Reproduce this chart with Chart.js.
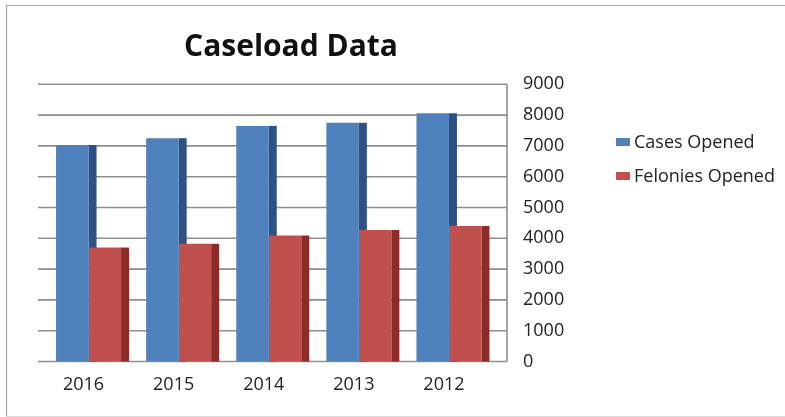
<!DOCTYPE html>
<html>
<head>
<meta charset="utf-8">
<script src="https://cdn.jsdelivr.net/npm/chart.js@4/dist/chart.umd.min.js"></script>
<style>
  html, body { margin: 0; padding: 0; background: #ffffff; }
  #wrap { width: 785px; height: 417px; position: relative; }
  canvas { display: block; }
</style>
</head>
<body>
<div id="wrap"><canvas id="c" width="785" height="417"></canvas></div>
<script>
// Caseload figures by year
const years = ['2016', '2015', '2014', '2013', '2012'];
const casesOpened = [7030, 7250, 7650, 7750, 8060];
const feloniesOpened = [3700, 3820, 4090, 4270, 4400];
const seriesNames = ['Cases Opened', 'Felonies Opened'];
const yMin = 0;
const yMax = 9000;
const yStep = 1000;
const chartTitle = 'Caseload Data';

const FONT = "'Open Sans', 'DejaVu Sans', sans-serif";
const faceColors = ['#4F81BD', '#C0504D'];
const sideColors = ['#2F5080', '#8A2D2A'];
const SIDE_DEPTH = 8;
const WALL_LEFT = 38;
const WALL_RIGHT = 507;

// Back wall: horizontal gridlines across the wall plus its right edge
const wallPlugin = {
  id: 'wall',
  beforeDatasetsDraw(chart) {
    const { ctx, scales } = chart;
    const y = scales.y;
    ctx.save();
    ctx.strokeStyle = '#8E8E8E';
    ctx.lineWidth = 1.6;
    y.ticks.forEach(t => {
      const py = y.getPixelForValue(t.value);
      ctx.beginPath();
      ctx.moveTo(WALL_LEFT, py);
      ctx.lineTo(WALL_RIGHT, py);
      ctx.stroke();
    });
    ctx.beginPath();
    ctx.moveTo(WALL_RIGHT, y.getPixelForValue(yMax));
    ctx.lineTo(WALL_RIGHT, y.getPixelForValue(yMin));
    ctx.stroke();
    ctx.restore();
  }
};

// Shaded right-hand faces that give the columns their depth
const sidePlugin = {
  id: 'sides',
  beforeDatasetsDraw(chart) {
    const { ctx } = chart;
    ctx.save();
    chart.data.datasets.forEach((ds, i) => {
      const meta = chart.getDatasetMeta(i);
      ctx.fillStyle = sideColors[i];
      meta.data.forEach(bar => {
        const p = bar.getProps(['x', 'y', 'base', 'width'], true);
        const x0 = p.x + p.width / 2;
        ctx.fillRect(x0, p.y, SIDE_DEPTH, p.base - p.y);
      });
    });
    ctx.restore();
  }
};

// Outer frame, title and legend
const decorPlugin = {
  id: 'decor',
  afterDraw(chart) {
    const { ctx } = chart;
    ctx.save();
    ctx.strokeStyle = '#A6A6A6';
    ctx.lineWidth = 1.2;
    ctx.beginPath();
    ctx.moveTo(6.5, 416.5);
    ctx.lineTo(6.5, 5.5);
    ctx.lineTo(785, 5.5);
    ctx.stroke();
    ctx.strokeStyle = '#DDDDDD';
    ctx.beginPath();
    ctx.moveTo(6.5, 416.5);
    ctx.lineTo(785, 416.5);
    ctx.stroke();

    ctx.fillStyle = '#111111';
    ctx.font = "bold 30px " + FONT;
    ctx.textAlign = 'center';
    ctx.textBaseline = 'alphabetic';
    ctx.fillText(chartTitle, 291, 56);

    ctx.font = "18px " + FONT;
    ctx.textAlign = 'left';
    ctx.textBaseline = 'middle';
    const rows = [142, 176];
    seriesNames.forEach((name, i) => {
      ctx.fillStyle = faceColors[i];
      ctx.fillRect(616, rows[i] - 4, 14, 8);
      ctx.fillStyle = '#222222';
      ctx.fillText(name, 634, rows[i] + 1);
    });
    ctx.restore();
  }
};

new Chart(document.getElementById('c'), {
  type: 'bar',
  data: {
    labels: years,
    datasets: [
      { label: seriesNames[0], data: casesOpened, backgroundColor: faceColors[0], borderWidth: 0 },
      { label: seriesNames[1], data: feloniesOpened, backgroundColor: faceColors[1], borderWidth: 0 }
    ]
  },
  options: {
    responsive: false,
    animation: false,
    devicePixelRatio: 1,
    categoryPercentage: 0.7214,
    barPercentage: 1,
    layout: { padding: { left: 43.5, top: 84.3, right: 216, bottom: 22.5 } },
    plugins: {
      legend: { display: false },
      title: { display: false },
      tooltip: { enabled: false }
    },
    scales: {
      x: {
        grid: { display: false, drawTicks: false },
        border: { display: false },
        ticks: {
          color: '#222222',
          font: { family: FONT, size: 18 },
          padding: 13,
          labelOffset: -5,
          maxRotation: 0
        },
        afterFit(s) { s.height = 33; }
      },
      y: {
        position: 'right',
        min: yMin,
        max: yMax,
        grid: { display: false, drawTicks: false },
        border: { display: false },
        ticks: {
          stepSize: yStep,
          color: '#222222',
          font: { family: FONT, size: 18 },
          padding: 29,
          callback: v => String(v)
        },
        afterFit(s) { s.width = 75; }
      }
    }
  },
  plugins: [wallPlugin, sidePlugin, decorPlugin]
});
</script>
</body>
</html>
